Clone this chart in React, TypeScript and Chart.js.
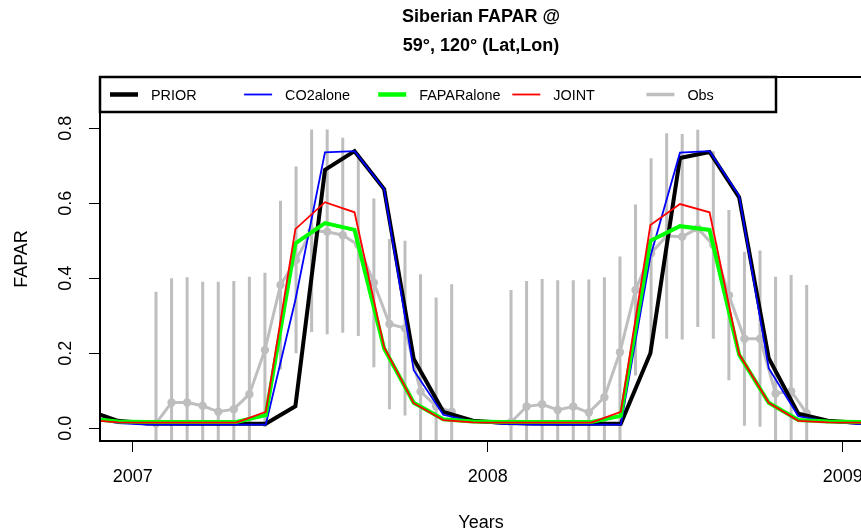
import React, { useEffect, useRef } from "react";
import { Chart, registerables } from "chart.js";

Chart.register(...registerables);

// ---------------- data ----------------
const TITLE_LINES = ["Siberian FAPAR @", "59°, 120° (Lat,Lon)"];
const X_TITLE = "Years";
const Y_TITLE = "FAPAR";
const X_TICKS = [2007, 2008, 2009];
const Y_TICKS = [0, 0.2, 0.4, 0.6, 0.8];

// monthly model values (mid-month), Nov 2006 .. Feb 2009
const MODEL_MONTHS = [
  "2006-11", "2006-12",
  "2007-01", "2007-02", "2007-03", "2007-04", "2007-05", "2007-06",
  "2007-07", "2007-08", "2007-09", "2007-10", "2007-11", "2007-12",
  "2008-01", "2008-02", "2008-03", "2008-04", "2008-05", "2008-06",
  "2008-07", "2008-08", "2008-09", "2008-10", "2008-11", "2008-12",
  "2009-01", "2009-02",
];
const PRIOR = [
  0.047, 0.020,
  0.013, 0.012, 0.012, 0.012, 0.012, 0.059, 0.689, 0.739, 0.638, 0.185, 0.044, 0.020,
  0.015, 0.013, 0.012, 0.012, 0.012, 0.200, 0.721, 0.737, 0.616, 0.187, 0.039, 0.020,
  0.015, 0.013,
];
const CO2ALONE = [
  0.028, 0.014,
  0.010, 0.010, 0.010, 0.010, 0.010, 0.342, 0.736, 0.739, 0.638, 0.155, 0.036, 0.018,
  0.012, 0.010, 0.010, 0.010, 0.010, 0.458, 0.735, 0.739, 0.620, 0.160, 0.032, 0.018,
  0.012, 0.010,
];
const FAPARALONE = [
  0.026, 0.018,
  0.017, 0.017, 0.017, 0.017, 0.035, 0.493, 0.547, 0.529, 0.213, 0.068, 0.024, 0.018,
  0.017, 0.017, 0.017, 0.017, 0.033, 0.500, 0.539, 0.529, 0.196, 0.068, 0.022, 0.018,
  0.017, 0.017,
];
const JOINT = [
  0.022, 0.016,
  0.015, 0.015, 0.015, 0.015, 0.044, 0.531, 0.603, 0.576, 0.216, 0.067, 0.022, 0.016,
  0.015, 0.015, 0.015, 0.015, 0.044, 0.542, 0.598, 0.576, 0.198, 0.068, 0.020, 0.016,
  0.015, 0.015,
];

// 16-day observations (day of year), mean and standard deviation
const OBS_DAYS = [24, 40, 56, 72, 88, 104, 120, 136, 152, 168, 184, 200, 216, 232, 248, 264, 280, 296, 312, 328];
const OBS_2007 = [0.013, 0.069, 0.069, 0.060, 0.044, 0.051, 0.091, 0.209, 0.382, 0.449, 0.527, 0.524, 0.515, 0.489, 0.388, 0.278, 0.267, 0.098, 0.059, 0.044];
const OBS_2007_SD = [0.351, 0.331, 0.334, 0.331, 0.347, 0.342, 0.313, 0.206, 0.225, 0.249, 0.270, 0.273, 0.260, 0.243, 0.225, 0.227, 0.233, 0.313, 0.290, 0.340];
const OBS_2008 = [0.016, 0.058, 0.064, 0.049, 0.058, 0.042, 0.083, 0.203, 0.369, 0.467, 0.513, 0.511, 0.533, 0.489, 0.355, 0.239, 0.239, 0.093, 0.099, 0.040];
const OBS_2008_SD = [0.353, 0.335, 0.334, 0.346, 0.337, 0.355, 0.320, 0.255, 0.228, 0.253, 0.274, 0.274, 0.263, 0.250, 0.227, 0.232, 0.235, 0.311, 0.310, 0.342];

// ---------------- styling / layout ----------------
const X_MIN = 2006.908;
const X_MAX = 2009.0544;
const Y_MIN = -0.0339;
const Y_MAX = 0.9368;
const GRAY = "#BEBEBE";
const FONT = "'Liberation Sans', Arial, Helvetica, sans-serif";
const W = 870;
const H = 530;

const monthToYear = (s: string) => {
  const [y, m] = s.split("-").map(Number);
  return y + (m - 0.5) / 12;
};
const dayToYear = (year: number, d: number) => year + d / 365;

export default function App() {
  const ref = useRef<HTMLCanvasElement | null>(null);

  useEffect(() => {
    if (!ref.current) return;
    const mt = MODEL_MONTHS.map(monthToYear);
    const series = (vals: number[]) => vals.map((v, i) => ({ x: mt[i], y: v }));

    const obsPts: any[] = [];
    const barPts: any[] = [];
    const addYear = (year: number, vals: number[], sds: number[]) => {
      vals.forEach((v, i) => {
        const x = dayToYear(year, OBS_DAYS[i]);
        obsPts.push({ x, y: v });
        barPts.push({ x, y: v - sds[i] });
        barPts.push({ x, y: v + sds[i] });
        barPts.push({ x, y: null });
      });
    };
    addYear(2007, OBS_2007, OBS_2007_SD);
    obsPts.push({ x: 2007.95, y: null });
    addYear(2008, OBS_2008, OBS_2008_SD);

    const legendItems = [
      { label: "PRIOR", color: "#000000", width: 4.5 },
      { label: "CO2alone", color: "#0000FF", width: 1.8 },
      { label: "FAPARalone", color: "#00FF00", width: 4.5 },
      { label: "JOINT", color: "#FF0000", width: 1.8 },
      { label: "Obs", color: GRAY, width: 3.5 },
    ];

    const decor = {
      id: "decor",
      afterDatasetsDraw(chart: any) {
        const { ctx, chartArea: a } = chart;
        ctx.save();
        ctx.strokeStyle = "#000";
        ctx.lineWidth = 2;
        ctx.strokeRect(a.left, a.top, a.right - a.left, a.bottom - a.top);
        ctx.restore();
      },
      afterDraw(chart: any) {
        const { ctx, chartArea: a, scales } = chart;
        const xs = scales.x;
        const ys = scales.y;
        ctx.save();
        ctx.fillStyle = "#000";
        // title
        ctx.font = `bold 18px ${FONT}`;
        ctx.textAlign = "center";
        ctx.textBaseline = "alphabetic";
        const cx = (a.left + a.right) / 2;
        ctx.fillText(TITLE_LINES[0], cx, 21.5);
        ctx.fillText(TITLE_LINES[1], cx, 50.5);
        // x tick labels
        ctx.font = `18px ${FONT}`;
        X_TICKS.forEach((t) => {
          ctx.fillText(String(t), xs.getPixelForValue(t), 482);
        });
        // x title
        ctx.fillText(X_TITLE, cx, 527.5);
        // y tick labels (rotated)
        Y_TICKS.forEach((t) => {
          const y = ys.getPixelForValue(t);
          ctx.save();
          ctx.translate(71, y);
          ctx.rotate(-Math.PI / 2);
          ctx.fillText(t.toFixed(1), 0, 0);
          ctx.restore();
        });
        // y title
        ctx.save();
        ctx.translate(26.5, (a.top + a.bottom) / 2);
        ctx.rotate(-Math.PI / 2);
        ctx.fillText(Y_TITLE, 0, 0);
        ctx.restore();
        // legend
        const lx = a.left, ly = a.top, lw = 676, lh = 35;
        ctx.fillStyle = "#fff";
        ctx.fillRect(lx, ly, lw, lh);
        ctx.strokeStyle = "#000";
        ctx.lineWidth = 2.5;
        ctx.strokeRect(lx, ly, lw, lh);
        ctx.font = `14.4px ${FONT}`;
        ctx.textAlign = "left";
        const midY = ly + 17.5;
        legendItems.forEach((it, i) => {
          const sx = lx + 10 + i * 134.1;
          ctx.strokeStyle = it.color;
          ctx.lineWidth = it.width;
          ctx.lineCap = "butt";
          ctx.beginPath();
          ctx.moveTo(sx, midY);
          ctx.lineTo(sx + 28, midY);
          ctx.stroke();
          ctx.fillStyle = "#000";
          ctx.fillText(it.label, sx + 41, midY + 5.2);
        });
        ctx.restore();
      },
    };

    const chart = new Chart(ref.current, {
      type: "line",
      data: {
        datasets: [
          { label: "JOINT", data: series(JOINT), borderColor: "#FF0000", borderWidth: 1.8, pointRadius: 0, tension: 0, clip: 0 } as any,
          { label: "FAPARalone", data: series(FAPARALONE), borderColor: "#00FF00", borderWidth: 4, pointRadius: 0, tension: 0, clip: 0 },
          { label: "CO2alone", data: series(CO2ALONE), borderColor: "#0000FF", borderWidth: 1.8, pointRadius: 0, tension: 0, clip: 0 },
          { label: "PRIOR", data: series(PRIOR), borderColor: "#000000", borderWidth: 4, pointRadius: 0, tension: 0, clip: 0 },
          { label: "Obs", data: obsPts, borderColor: GRAY, borderWidth: 3, pointRadius: 4.2, pointBackgroundColor: GRAY, pointBorderWidth: 0, tension: 0, spanGaps: false, clip: 0 },
          { label: "Obs range", data: barPts, borderColor: GRAY, borderWidth: 3, pointRadius: 0, tension: 0, spanGaps: false, clip: 0, borderCapStyle: "butt" },
        ],
      },
      options: {
        responsive: false,
        animation: false,
        events: [],
        parsing: true as any,
        layout: { padding: { left: 0, top: 77, right: W - 862, bottom: 0 } },
        plugins: { legend: { display: false }, title: { display: false }, tooltip: { enabled: false } },
        scales: {
          x: {
            type: "linear",
            min: X_MIN,
            max: X_MAX,
            afterBuildTicks: (s: any) => { s.ticks = X_TICKS.map((v) => ({ value: v })); },
            afterFit: (s: any) => { s.height = H - 441; s.paddingLeft = 0; s.paddingRight = 0; s.paddingTop = 0; s.paddingBottom = 0; },
            ticks: { display: false },
            grid: { display: true, drawOnChartArea: false, drawTicks: true, tickLength: 11, color: "#000", lineWidth: 1 },
            border: { display: false },
          },
          y: {
            type: "linear",
            min: Y_MIN,
            max: Y_MAX,
            afterBuildTicks: (s: any) => { s.ticks = Y_TICKS.map((v) => ({ value: v })); },
            afterFit: (s: any) => { s.width = 100; s.paddingLeft = 0; s.paddingRight = 0; s.paddingTop = 0; s.paddingBottom = 0; },
            ticks: { display: false },
            grid: { display: true, drawOnChartArea: false, drawTicks: true, tickLength: 11, color: "#000", lineWidth: 1 },
            border: { display: false },
          },
        },
      } as any,
      plugins: [decor],
    });
    return () => chart.destroy();
  }, []);

  return (
    <div style={{ position: "fixed", left: 0, top: 0, width: W, height: H, background: "#fff" }}>
      <canvas ref={ref} width={W} height={H} style={{ display: "block", width: W, height: H }} />
    </div>
  );
}
